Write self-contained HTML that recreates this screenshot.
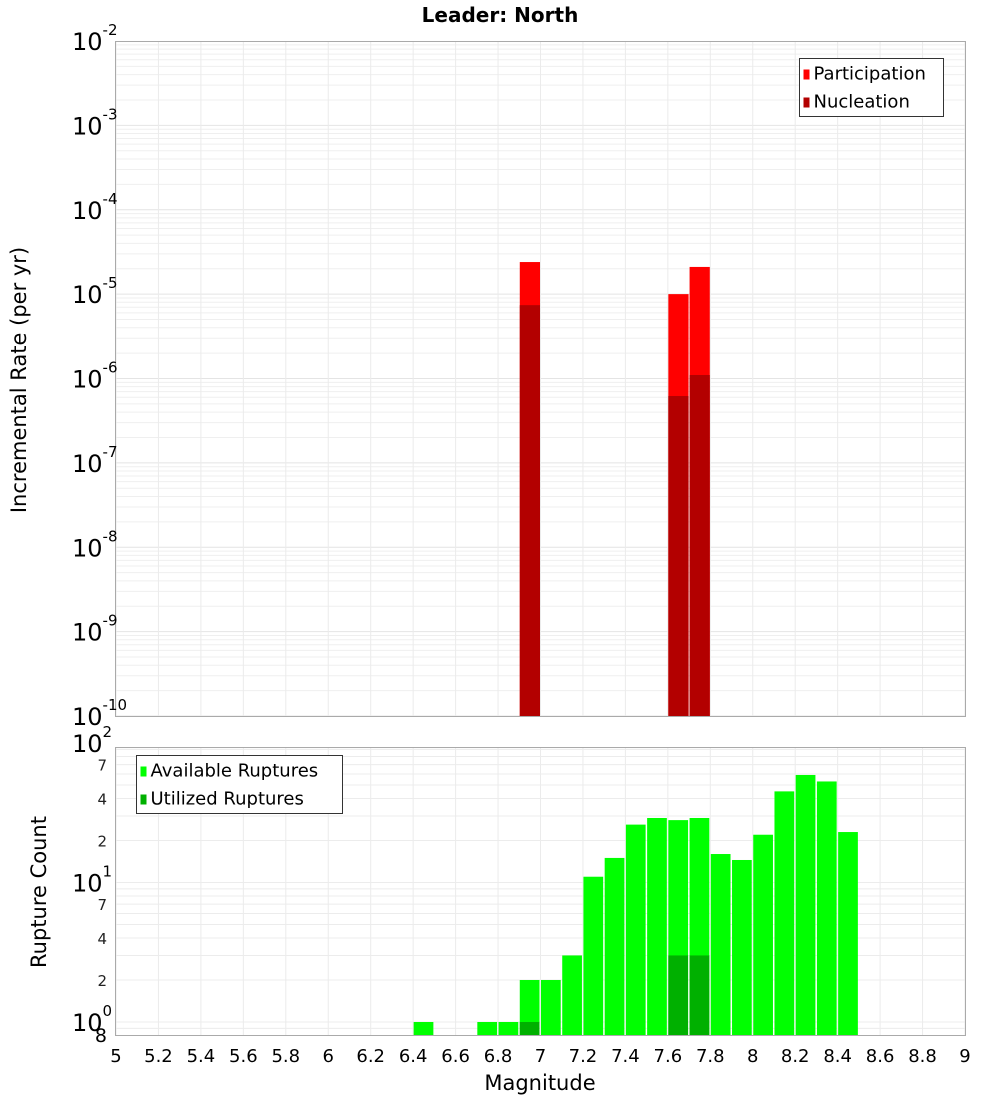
<!DOCTYPE html>
<html><head><meta charset="utf-8"><style>
body{margin:0;background:#fff}
svg{display:block;font-family:"DejaVu Sans","Liberation Sans",sans-serif}
</style></head><body>
<svg id="chart" width="1000" height="1100" viewBox="0 0 1000 1100" xmlns="http://www.w3.org/2000/svg">
<text x="500" y="22" text-anchor="middle" font-size="20" font-weight="bold">Leader: North</text>
<g id="topg"></g><g id="botg"></g>
<text transform="translate(26,380) rotate(-90)" text-anchor="middle" font-size="21">Incremental Rate (per yr)</text>
<text transform="translate(46,892) rotate(-90)" text-anchor="middle" font-size="21">Rupture Count</text>
<text x="540" y="1090" text-anchor="middle" font-size="21">Magnitude</text>
</svg>
<script>
const magBins=[6.9,7.6,7.7];
const participation=[2.4e-5,1.0e-5,2.1e-5];
const nucleation=[7.4e-6,6.2e-7,1.1e-6];
const availMags=[6.4,6.7,6.8,6.9,7.0,7.1,7.2,7.3,7.4,7.5,7.6,7.7,7.8,7.9,8.0,8.1,8.2,8.3,8.4];
const availCounts=[1,1,1,2,2,3,11,15,26,29,28,29,16,14.5,22,45,59,53,23];
const utilMags=[6.9,7.6,7.7];
const utilCounts=[1,3,3];
const xTicks=[5,5.2,5.4,5.6,5.8,6,6.2,6.4,6.6,6.8,7,7.2,7.4,7.6,7.8,8,8.2,8.4,8.6,8.8,9];
const topDecades=[-10,-9,-8,-7,-6,-5,-4,-3,-2];
const botMinor=[2,4,7,20,40,70];

const NS="http://www.w3.org/2000/svg";
const L=116,R=965;
const X=m=>L+(m-5)*(R-L)/4;
const TT=41,TB=716;
const YT=v=>TB-(Math.log10(v)+10)*(TB-TT)/8;
const BT=747,BB=1035;
const YB=v=>1022-Math.log10(v)*139.5;
function el(p,t,a,txt){const e=document.createElementNS(NS,t);for(const k in a)e.setAttribute(k,a[k]);if(txt!==undefined)e.textContent=txt;p.appendChild(e);return e;}
const topG=document.getElementById('topg'),botG=document.getElementById('botg');

for(let d=-10;d<-2;d++)for(let k=1;k<10;k++){const y=YT(k*Math.pow(10,d));
 const g=el(topG,'line',{x1:L,x2:R,y1:y,y2:y,stroke:k==1?'#e4e4e4':'#efefef','stroke-width':1});
 
 }
xTicks.forEach(t=>{[[TT,TB],[BT,BB]].forEach(r=>{const g=el(topG,'line',{x1:X(t),x2:X(t),y1:r[0],y2:r[1],stroke:'#ebebeb'});
 
 });});
for(let d=-1;d<2;d++)for(let k=1;k<10;k++){const v=k*Math.pow(10,d);const y=YB(v);if(y<BT||y>BB)continue;
 const g=el(botG,'line',{x1:L,x2:R,y1:y,y2:y,stroke:'#ececec'});
 
 }

const bw=(R-L)/40;
magBins.forEach((m,i)=>{
 const b=el(topG,'rect',{x:X(m)+0.5,y:YT(participation[i]),width:bw-1,height:TB-YT(participation[i]),fill:'#ff0000'});
 
 
 const n=el(topG,'rect',{x:X(m)+0.5,y:YT(nucleation[i]),width:bw-1,height:TB-YT(nucleation[i]),fill:'#b30000'});
 
 
});
availMags.forEach((m,i)=>{
 const b=el(botG,'rect',{x:X(m)+0.5,y:YB(availCounts[i]),width:bw-1.5,height:BB-YB(availCounts[i]),fill:'#00ff00'});
 
 
});
utilMags.forEach((m,i)=>{
 const b=el(botG,'rect',{x:X(m)+0.5,y:YB(utilCounts[i]),width:bw-1.5,height:BB-YB(utilCounts[i]),fill:'#00b000'});
 
 
});
[[TT,TB],[BT,BB]].forEach(r=>{const f=el(topG,'rect',{x:L-0.5,y:r[0]+0.5,width:R-L+1,height:r[1]-r[0],fill:'none',stroke:'#aaaaaa'});
 
 });

topDecades.forEach(d=>{const y=YT(Math.pow(10,d));
 const t=el(topG,'text',{x:72,y:y+9,'font-size':24});
 
 
 t.appendChild(document.createTextNode('10'));
 el(t,'tspan',{dy:-15,'font-size':15},String(d));
});
[0,1,2].forEach(d=>{const y=YB(Math.pow(10,d));
 const t=el(botG,'text',{x:72,y:y+9,'font-size':24});
 
 
 t.appendChild(document.createTextNode('10'));
 el(t,'tspan',{dy:-15,'font-size':15},String(d));
});
botMinor.forEach(v=>{const t=el(botG,'text',{x:107,y:YB(v)+6,'font-size':15,'text-anchor':'end',fill:'#222'},String(v).charAt(0));
 
 });
const e8=el(botG,'text',{x:107,y:1042,'font-size':19,'text-anchor':'end'},'8');


xTicks.forEach(t=>{const x=el(botG,'text',{x:X(t),y:1062,'font-size':18,'text-anchor':'middle'},String(t));
 
 });

function legend(p,x,y,w,items,name){
 const g=el(p,'g',{});
 
 
 el(g,'rect',{x:x,y:y,width:w,height:58,fill:'#fff',stroke:'#333'});
 items.forEach((it,i)=>{el(g,'rect',{x:x+4,y:y+11+i*28,width:6,height:10,fill:it[1]});
  el(g,'text',{x:x+14,y:y+21+i*28,'font-size':18},it[0]);});
}
legend(topG,799.5,58.5,144,[['Participation','#ff0000'],['Nucleation','#b30000']],'top-legend');
legend(botG,136.5,755.5,206,[['Available Ruptures','#00ff00'],['Utilized Ruptures','#00b000']],'bottom-legend');
</script>
</body></html>
